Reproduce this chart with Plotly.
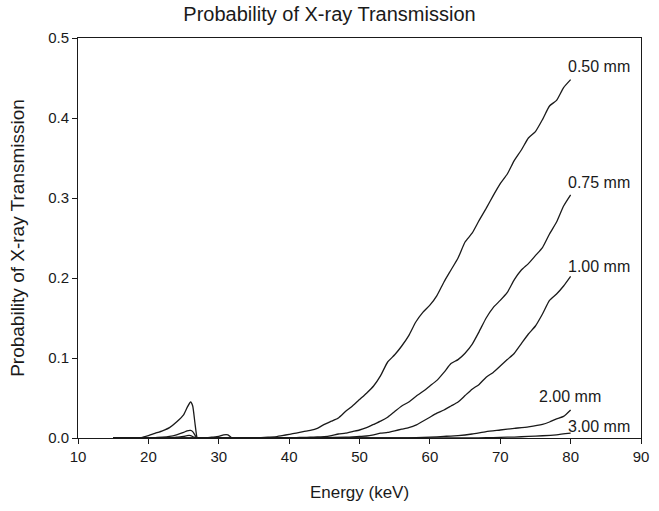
import plotly.graph_objects as go

# Transmission probability vs photon energy for several absorber thicknesses
e_050 = [15, 16, 17, 18, 19, 20, 21, 22, 23, 24, 25, 25.5, 26, 26.3, 26.6, 26.9, 27, 28, 29, 30, 30.7,
         31.3, 31.8, 32, 33, 34, 35, 36, 37, 38, 39, 40, 41, 42, 43, 44, 45, 46, 47, 48, 49, 50, 51,
         52, 53, 54, 55, 56, 57, 58, 59, 60, 61, 62, 63, 64, 65, 66, 67, 68, 69, 70, 71, 72, 73, 74,
         75, 76, 77, 78, 79, 80]
t_050 = [0, 0, 0, 0, 0.0005, 0.003, 0.006, 0.009, 0.013, 0.02, 0.029, 0.038, 0.045, 0.04, 0.02, 0.001,
         0, 0, 0.001, 0.002, 0.004, 0.004, 0.0005, 0, 0, 0, 0.0003, 0.0005, 0.001, 0.0015, 0.003, 0.0045,
         0.006, 0.008, 0.0095, 0.012, 0.017, 0.021, 0.025, 0.033, 0.04, 0.048, 0.056, 0.065, 0.078,
         0.095, 0.104, 0.115, 0.128, 0.145, 0.157, 0.166, 0.178, 0.195, 0.21, 0.225, 0.245, 0.256,
         0.272, 0.287, 0.303, 0.318, 0.33, 0.347, 0.36, 0.375, 0.383, 0.398, 0.415, 0.422, 0.438, 0.448]

e_075 = [15, 20, 21, 22, 23, 24, 25, 25.5, 26, 26.3, 26.6, 26.9, 27, 30, 30.7, 31.3, 31.8, 32, 40, 41,
         42, 43, 44, 45, 46, 47, 48, 49, 50, 51, 52, 53, 54, 55, 56, 57, 58, 59, 60, 61, 62, 63, 64,
         65, 66, 67, 68, 69, 70, 71, 72, 73, 74, 75, 76, 77, 78, 79, 80]
t_075 = [0, 0, 0.0005, 0.001, 0.002, 0.004, 0.007, 0.009, 0.0095, 0.008, 0.004, 0, 0, 0, 0.0004,
         0.0004, 0, 0, 0.0003, 0.0005, 0.0008, 0.001, 0.0013, 0.0017, 0.003, 0.005, 0.006, 0.008,
         0.010, 0.013, 0.017, 0.021, 0.026, 0.033, 0.04, 0.045, 0.052, 0.058, 0.065, 0.072, 0.082,
         0.093, 0.098, 0.106, 0.117, 0.133, 0.15, 0.163, 0.172, 0.182, 0.198, 0.21, 0.218, 0.228,
         0.238, 0.255, 0.27, 0.29, 0.304]

e_100 = [15, 23, 24, 25, 25.5, 26, 26.5, 27, 45, 48, 50, 51, 52, 53, 54, 55, 56, 57, 58, 59, 60, 61,
         62, 63, 64, 65, 66, 67, 68, 69, 70, 71, 72, 73, 74, 75, 76, 77, 78, 79, 80]
t_100 = [0, 0, 0.001, 0.002, 0.003, 0.003, 0.001, 0, 0.0005, 0.001, 0.002, 0.0025, 0.004, 0.006,
         0.007, 0.009, 0.011, 0.013, 0.016, 0.021, 0.026, 0.031, 0.035, 0.04, 0.045, 0.053, 0.061,
         0.067, 0.076, 0.082, 0.09, 0.098, 0.106, 0.118, 0.13, 0.14, 0.155, 0.172, 0.18, 0.19, 0.202]

e_200 = [15, 56, 58, 60, 62, 64, 66, 68, 70, 72, 74, 76, 77, 78, 79, 80]
t_200 = [0, 0, 0.0003, 0.001, 0.002, 0.003, 0.005, 0.008, 0.01, 0.012, 0.014, 0.017, 0.02, 0.024,
         0.027, 0.035]

e_300 = [15, 66, 68, 70, 72, 74, 76, 78, 80]
t_300 = [0, 0, 0.0003, 0.0008, 0.0012, 0.002, 0.0028, 0.004, 0.006]

thickness_labels = ["0.50 mm", "0.75 mm", "1.00 mm", "2.00 mm", "3.00 mm"]
label_x = [79.4, 79.4, 79.4, 75.2, 79.3]
label_y = [0.465, 0.32, 0.214, 0.0525, 0.0145]

series = [(e_050, t_050), (e_075, t_075), (e_100, t_100), (e_200, t_200), (e_300, t_300)]

fig = go.Figure()
for (ex, ty), name in zip(series, thickness_labels):
    fig.add_trace(go.Scatter(x=ex, y=ty, mode="lines", name=name,
                             line=dict(color="#1a1a1a", width=1.3, shape="spline", smoothing=0.5)))

for name, lx, ly in zip(thickness_labels, label_x, label_y):
    fig.add_annotation(x=lx, y=ly, text=name, showarrow=False, xanchor="left", yanchor="middle",
                       font=dict(size=16, color="#1a1a1a"))

axis_common = dict(showline=True, linecolor="#1a1a1a", linewidth=1, mirror=True,
                   ticks="outside", ticklen=5, tickcolor="#1a1a1a", showgrid=False, zeroline=False,
                   tickfont=dict(size=15, color="#1a1a1a"))

fig.update_layout(
    width=659, height=511,
    margin=dict(l=78, r=10, t=38, b=73),
    paper_bgcolor="white", plot_bgcolor="white",
    font=dict(family="Liberation Sans, Arial, sans-serif", color="#1a1a1a"),
    showlegend=False,
    title=dict(text="Probability of X-ray Transmission", x=0.5, xanchor="center", y=0.972,
               yanchor="middle", font=dict(size=20)),
    xaxis=dict(range=[10, 90], tickvals=[10, 20, 30, 40, 50, 60, 70, 80, 90],
               title=dict(text="Energy (keV)", font=dict(size=17), standoff=22), **axis_common),
    yaxis=dict(range=[0, 0.5], tickvals=[0, 0.1, 0.2, 0.3, 0.4, 0.5],
               ticktext=["0.0", "0.1", "0.2", "0.3", "0.4", "0.5"],
               title=dict(text="Probability of X-ray Transmission", font=dict(size=19), standoff=18),
               **axis_common),
)

fig.write_html("out.html")
